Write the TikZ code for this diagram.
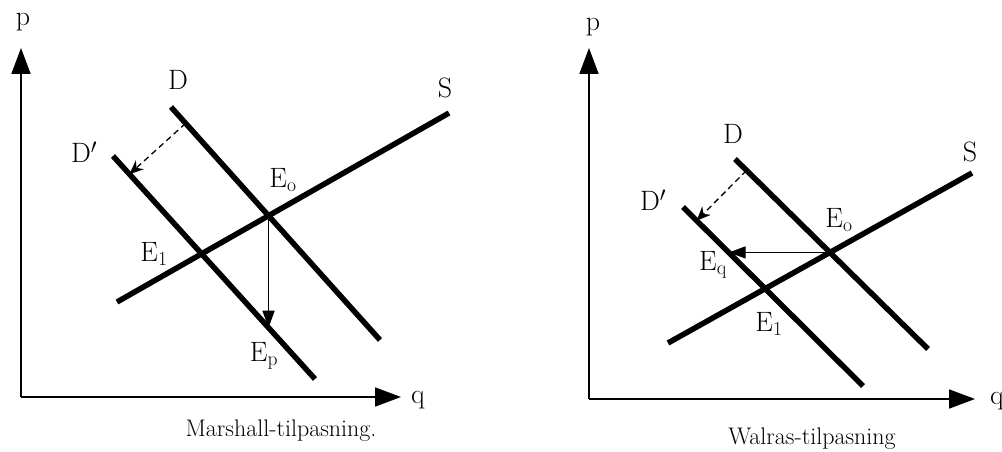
\documentclass[tikz,border=0pt]{standalone}
\usetikzlibrary{arrows.meta,calc,intersections}
\begin{document}
\begin{tikzpicture}[
    x=1pt, y=-1pt,
    axis/.style = {line width=1.7pt, -{Triangle[length=26pt,width=19pt]}},
    curve/.style = {line width=5.5pt},
    shiftarrow/.style = {line width=1.3pt, dash pattern=on 6pt off 4pt, -{Stealth[length=14pt,width=12pt]}},
    adjust/.style = {line width=1.4pt, -{Triangle[length=17pt,width=12pt]}},
    lbl/.style = {font=\fontsize{28}{30}\selectfont, inner sep=0pt},
    caption/.style = {font=\fontsize{24}{26}\selectfont, inner sep=0pt}
  ]
  \useasboundingbox (0,0) rectangle (1002,452);

  % Marshall
  \coordinate (mO) at (21,397);
  \coordinate (mP) at (21,48);
  \coordinate (mQ) at (401,397);
  \draw[axis] (mO) -- (mP);
  \draw[axis] (mO) -- (mQ);
  \node[lbl] (mplab) at (23,22) {p};
  \node[lbl] (mqlab) at (418,400) {q};

  \coordinate (mD1) at (171,107);
  \coordinate (mD2) at (380,340);
  \coordinate (mDp1) at (113,156);
  \coordinate (mDp2) at (315,379);
  \coordinate (mS1) at (117,302);
  \coordinate (mS2) at (449,113);
  \draw[curve, name path=mD] (mD1) -- (mD2);
  \draw[curve, name path=mDp] (mDp1) -- (mDp2);
  \draw[curve, name path=mS] (mS1) -- (mS2);
  \path[name intersections={of=mD and mS, by=mE0}];
  \path[name intersections={of=mDp and mS, by=mE1}];
  \path[name path=mdrop] (mE0) -- ++(0,150);
  \path[name intersections={of=mdrop and mDp, by=mEp}];
  \draw[adjust] (mE0) -- (mEp);
  \coordinate (mshift) at ($(mD1)!0.07!(mD2)$);
  \draw[shiftarrow] (mshift) -- ($(mDp1)!(mshift)!(mDp2)$);

  \node[lbl] (mDlab) at (178,80) {D};
  \node[lbl] (mDplab) at (84,152) {D$'$};
  \node[lbl] (mSlab) at (445,88) {S};
  \node[lbl] (mE0lab) at (283,180) {E\textsubscript{o}};
  \node[lbl] (mE1lab) at (154,254) {E\textsubscript{1}};
  \node[lbl] (mEplab) at (264,356) {E\textsubscript{p}};
  \node[caption] (mcap) at (281,431) {Marshall-tilpasning.};

  % Walras
  \coordinate (wO) at (589,399);
  \coordinate (wP) at (589,48);
  \coordinate (wQ) at (975,399);
  \draw[axis] (wO) -- (wP);
  \draw[axis] (wO) -- (wQ);
  \node[lbl] (wplab) at (593,27) {p};
  \node[lbl] (wqlab) at (997,401) {q};

  \coordinate (wD1) at (735,159);
  \coordinate (wD2) at (928,349);
  \coordinate (wDp1) at (683,207);
  \coordinate (wDp2) at (863,386);
  \coordinate (wS1) at (668,343);
  \coordinate (wS2) at (972,173);
  \draw[curve, name path=wD] (wD1) -- (wD2);
  \draw[curve, name path=wDp] (wDp1) -- (wDp2);
  \draw[curve, name path=wS] (wS1) -- (wS2);
  \path[name intersections={of=wD and wS, by=wE0}];
  \path[name intersections={of=wDp and wS, by=wE1}];
  \path[name path=wflat] (wE0) -- ++(-150,0);
  \path[name intersections={of=wflat and wDp, by=wEq}];
  \draw[adjust] (wE0) -- (wEq);
  \coordinate (wshift) at ($(wD1)!0.06!(wD2)$);
  \draw[shiftarrow] (wshift) -- ($(wDp1)!(wshift)!(wDp2)$);

  \node[lbl] (wDlab) at (733,134) {D};
  \node[lbl] (wDplab) at (653,200) {D$'$};
  \node[lbl] (wSlab) at (970,152) {S};
  \node[lbl] (wE0lab) at (839,220) {E\textsubscript{o}};
  \node[lbl] (wEqlab) at (713,265) {E\textsubscript{q}};
  \node[lbl] (wE1lab) at (769,324) {E\textsubscript{1}};
  \node[caption] (wcap) at (812,439) {Walras-tilpasning};
\end{tikzpicture}
\end{document}
